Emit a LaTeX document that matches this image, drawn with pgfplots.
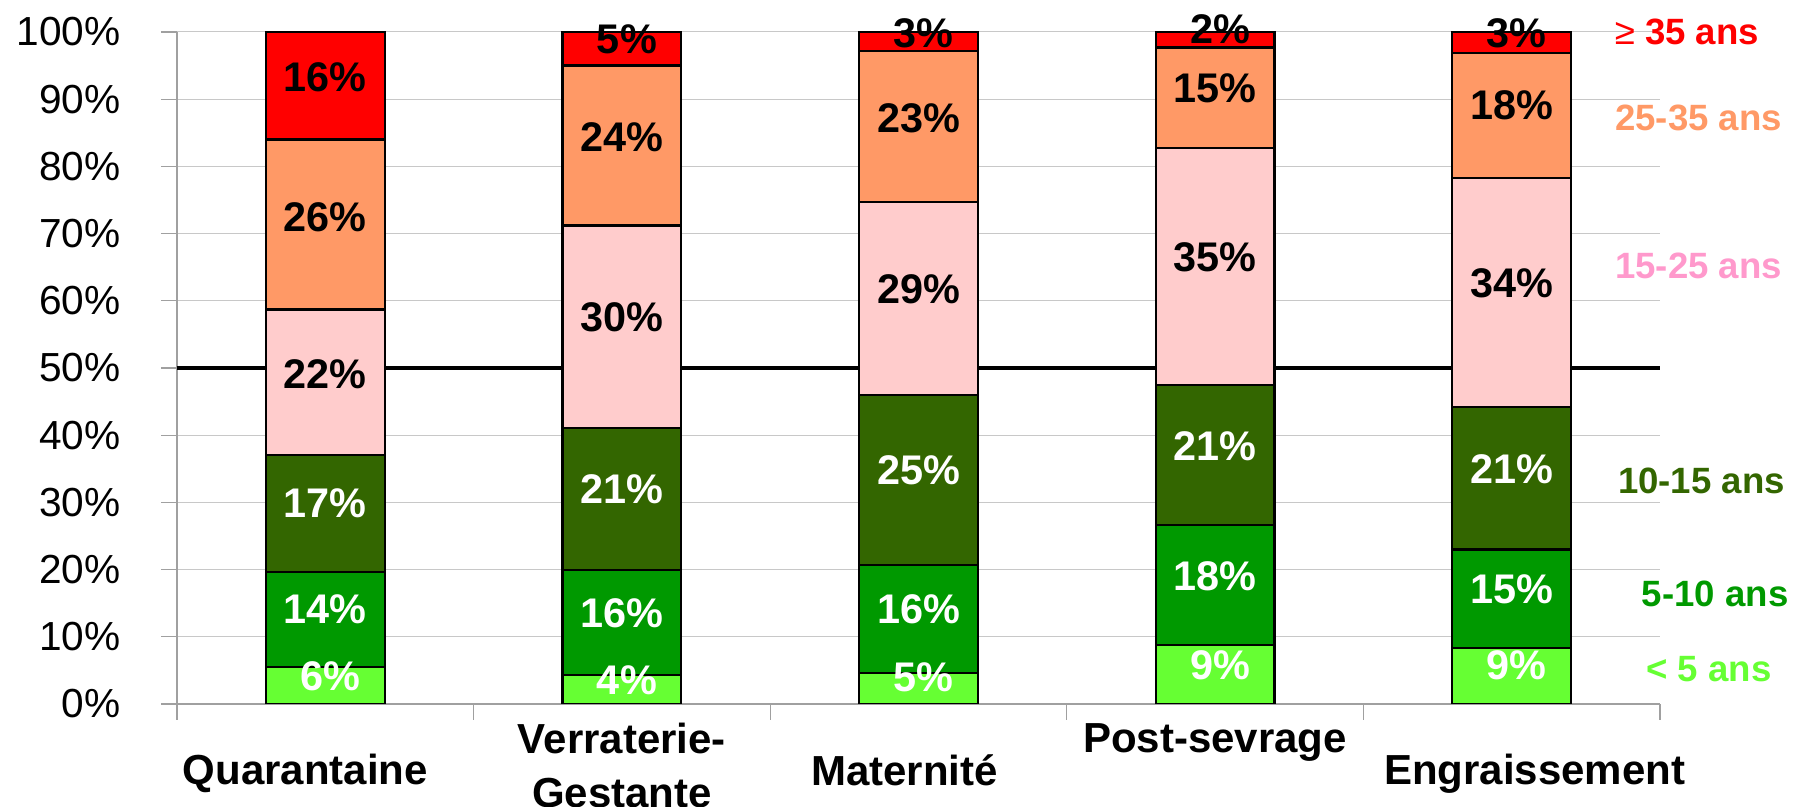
\documentclass[border=0pt]{standalone}
\usepackage{pgfplots}
\usepackage{pgfplotstable}
\pgfplotsset{compat=1.18}
\usepackage{fontspec}
\setmainfont{Liberation Sans}
\definecolor{cRed}{HTML}{FF0000}
\definecolor{cOrange}{HTML}{FF9966}
\definecolor{cPink}{HTML}{FFCCCC}
\definecolor{cPinkTxt}{HTML}{FF99CC}
\definecolor{cDark}{HTML}{336600}
\definecolor{cGreen}{HTML}{009900}
\definecolor{cLight}{HTML}{66FF33}
\definecolor{cGrid}{HTML}{C8C8C8}
\definecolor{cAxis}{HTML}{A0A0A0}
\newcommand\tickfont{\fontsize{20.3}{24}\selectfont}
\newcommand\lblfont{\fontsize{20.7}{24}\selectfont\bfseries}
\newcommand\catfont{\fontsize{21}{27}\selectfont\bfseries}
\newcommand\rlfont{\fontsize{18.3}{22}\selectfont\bfseries}

\pgfplotstableread{
x lt5 a510 a1015 a1525 a2535 ge35
0 5.5 14.1 17.5 21.6 25.3 16.0
1 4.3 15.6 21.2 30.1 23.8 5.0
2 4.6 16.1 25.3 28.7 22.5 2.8
3 8.8 17.8 20.9 35.2 15.0 2.3
4 8.3 14.7 21.2 34.1 18.6 3.1
}\agedata

\pgfplotstableread{
x y v
0 93.2 16
0 72.5 26
0 49.1 22
1 84.3 24
1 57.5 30
2 87.2 23
2 61.7 29
3 91.6 15
3 66.5 35
4 89.1 18
4 62.6 34
}\blackbig
\pgfplotstableread{
x y v
1 98.9 5
2 99.8 3
3 100.4 2
4 99.8 3
}\blacksmall
\pgfplotstableread{
x y v
0 29.8 17
0 14.1 14
1 31.9 21
1 13.5 16
2 34.8 25
2 14.1 16
3 38.4 21
3 19.0 18
4 34.9 21
4 17.1 15
}\whitebig
\pgfplotstableread{
x y v
0 4.1 6
1 3.5 4
2 3.9 5
3 5.7 9
4 5.7 9
}\whitesmall

\pgfplotsset{
  base/.style={width=741.5pt, height=336pt, scale only axis,
    xmin=-0.5, xmax=4.5, ymin=0, ymax=100,
    /pgf/number format/assume math mode=true},
  lbl/.style={only marks, mark=none, point meta=explicit,
    nodes near coords={\pgfmathprintnumber{\pgfplotspointmeta}\%},
    nodes near coords style={anchor=center, font=\lblfont, inner sep=0pt}},
}

\begin{document}
\begin{tikzpicture}
\useasboundingbox (-88.5pt,-51.5pt) rectangle (808pt,352pt);
\begin{axis}[base,
  axis x line*=bottom, axis y line*=left,
  axis line style={draw=cAxis, line width=0.6pt},
  ytick={0,10,...,100},
  yticklabels={0\%,10\%,20\%,30\%,40\%,50\%,60\%,70\%,80\%,90\%,100\%},
  yticklabel style={font=\tickfont, anchor=east, inner sep=0pt, xshift=-20pt},
  ymajorgrids, grid style={draw=cGrid, line width=0.5pt},
  xtick={-0.5,0.5,1.5,2.5,3.5,4.5},
  xticklabels={,,,,,},
  extra x ticks={0,1,2,3,4},
  extra x tick labels={
    {\hspace*{-20pt}\raisebox{-15.5pt}[\height][0pt]{Quarantaine}},
    {Verraterie-\\Gestante},
    {\hspace*{-14pt}\raisebox{-15.5pt}[\height][0pt]{Maternité}},
    {Post-sevrage},
    {\hspace*{23pt}\raisebox{-15.5pt}[\height][0pt]{Engraissement}}},
  extra x tick style={major tick length=0pt},
  xticklabel style={font=\catfont, anchor=north, align=center, inner sep=0pt, yshift=-9.5pt},
  tick align=outside,
  major tick length=8pt,
  tick style={draw=cAxis, line width=0.6pt},
]
\addplot[black, line width=2pt] coordinates {(-0.5,50) (4.5,50)};
\end{axis}

\begin{axis}[base, ybar stacked, bar width=0.4, axis lines=none, ticks=none,
  every axis plot/.append style={draw=black, line width=1.1pt}]
\addplot[fill=cLight] table[x=x,y=lt5]{\agedata};
\addplot[fill=cGreen] table[x=x,y=a510]{\agedata};
\addplot[fill=cDark] table[x=x,y=a1015]{\agedata};
\addplot[fill=cPink] table[x=x,y=a1525]{\agedata};
\addplot[fill=cOrange] table[x=x,y=a2535]{\agedata};
\addplot[fill=cRed] table[x=x,y=ge35]{\agedata};
\end{axis}

\begin{axis}[base, axis lines=none, ticks=none, clip=false]
\addplot[lbl, nodes near coords style={text=black}] table[x=x,y=y,meta=v]{\blackbig};
\addplot[lbl, nodes near coords style={text=black, xshift=2.5pt}] table[x=x,y=y,meta=v]{\blacksmall};
\addplot[lbl, nodes near coords style={text=white}] table[x=x,y=y,meta=v]{\whitebig};
\addplot[lbl, nodes near coords style={text=white, xshift=2.5pt}] table[x=x,y=y,meta=v]{\whitesmall};
\node[text=cRed, font=\rlfont] at (axis cs:4.591,100) {{\mdseries ≥} 35 ans};
\node[text=cOrange, font=\rlfont] at (axis cs:4.630,87.2) {25-35 ans};
\node[text=cPinkTxt, font=\rlfont] at (axis cs:4.630,65.2) {15-25 ans};
\node[text=cDark, font=\rlfont] at (axis cs:4.640,33.2) {10-15 ans};
\node[text=cGreen, font=\rlfont] at (axis cs:4.686,16.4) {5-10 ans};
\node[text=cLight, font=\rlfont] at (axis cs:4.665,5.2) {< 5 ans};
\end{axis}
\end{tikzpicture}
\end{document}
